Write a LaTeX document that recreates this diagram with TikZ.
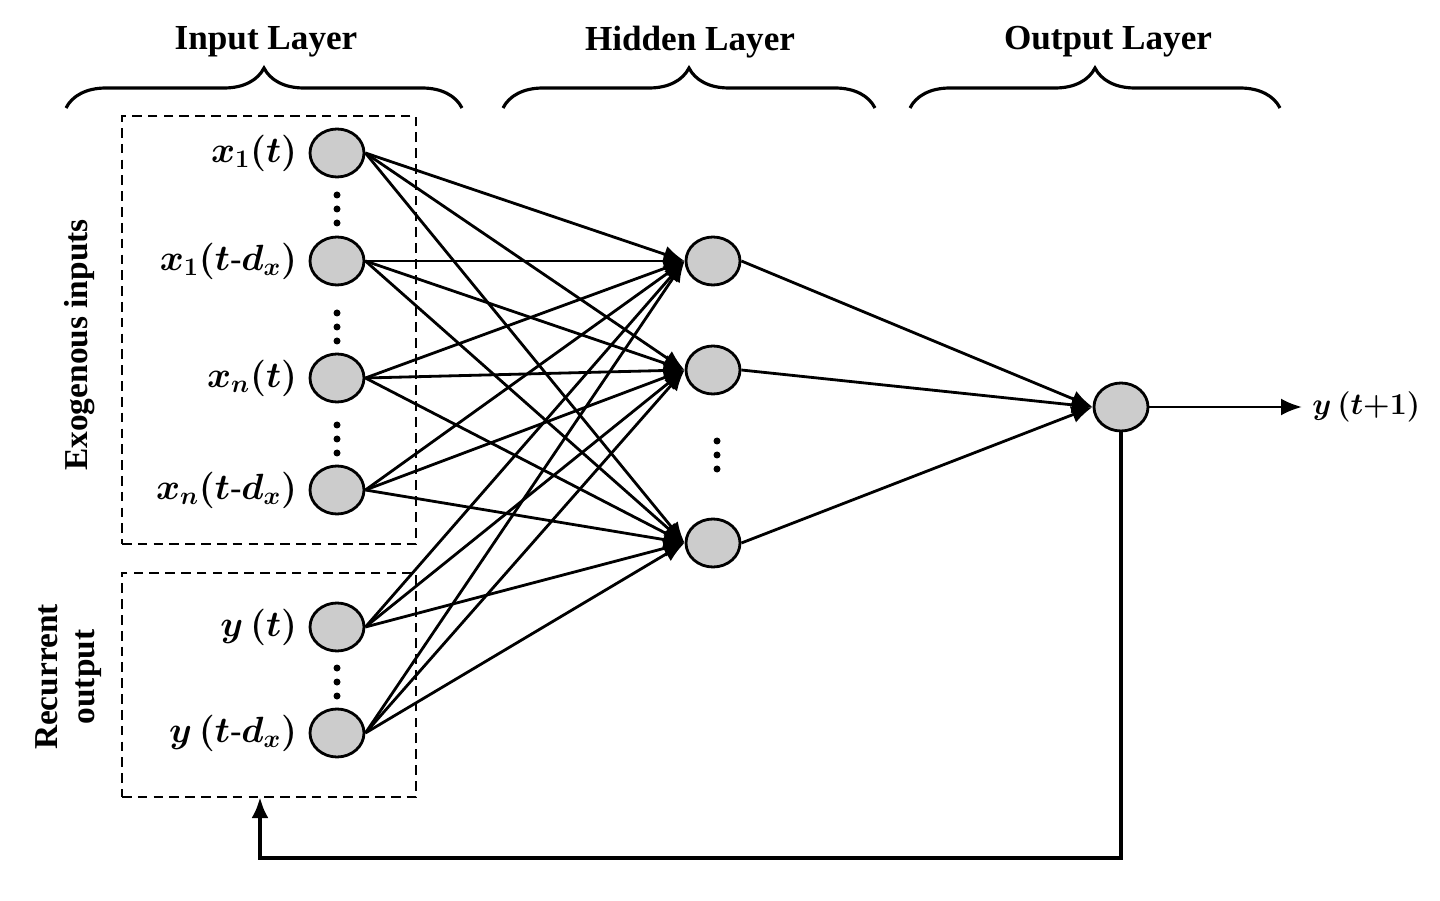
\documentclass[tikz,border=0pt]{standalone}
\usepackage{fontspec}
\setmainfont{Liberation Serif}
\usepackage{tikz}
\usetikzlibrary{arrows.meta,positioning,decorations.pathreplacing,shapes.geometric}

\begin{document}
\begin{tikzpicture}[
    >={Latex[length=0.42cm,width=0.34cm]},
    line width=1.6pt,
    neuron/.style={draw, ellipse, fill=gray!40, minimum width=1.08cm, minimum height=0.96cm, inner sep=0pt},
    lbl/.style={font=\fontsize{19.5}{23}\selectfont\boldmath, inner sep=0pt},
    title/.style={font=\fontsize{20}{24}\selectfont\bfseries},
    side/.style={font=\fontsize{19}{21}\selectfont\bfseries, rotate=90, align=center},
    group/.style={draw, dashed, dash pattern=on 5.5pt off 3.5pt, line width=1.1pt, rectangle, minimum width=5.88cm},
    brace/.style={decorate, decoration={brace, amplitude=0.8cm}, line width=1.8pt}
]
\useasboundingbox (0,0) rectangle (28.8,-18.02);

% Titulos
\node[title] (tin) at (5.32,-0.84) {Input Layer};
\node[title] (thid) at (13.8,-0.84) {Hidden Layer};
\node[title] (tout) at (22.16,-0.84) {Output Layer};

\draw[brace] (1.32,-2.16) -- (9.24,-2.16);
\draw[brace] (10.06,-2.16) -- (17.5,-2.16);
\draw[brace] (18.2,-2.16) -- (25.6,-2.16);

% Cajas
\node[group, minimum height=8.56cm] (exo) at (5.38,-6.6) {};
\node[group, minimum height=4.48cm] (rec) at (5.38,-13.7) {};

\node[side] (lexo) at (1.6,-6.9) {Exogenous inputs};
\node[side] (lrec) at (1.38,-13.54) {Recurrent\\output};

% Entradas
\node[neuron] (i1) at (6.74,-3.06) {};
\node[neuron] (i2) at (6.74,-5.22) {};
\node[neuron] (i3) at (6.74,-7.56) {};
\node[neuron] (i4) at (6.74,-9.8) {};
\node[neuron] (i5) at (6.74,-12.54) {};
\node[neuron] (i6) at (6.74,-14.66) {};

\node[lbl, left=0.2cm of i1] (l1) {$x_1(t)$};
\node[lbl, left=0.2cm of i2] (l2) {$x_1(t\mbox{-}d_x)$};
\node[lbl, left=0.2cm of i3] (l3) {$x_n(t)$};
\node[lbl, left=0.2cm of i4] (l4) {$x_n(t\mbox{-}d_x)$};
\node[lbl, left=0.2cm of i5] (l5) {$y\,(t)$};
\node[lbl, left=0.2cm of i6] (l6) {$y\,(t\mbox{-}d_x)$};

% Ocultas
\node[neuron] (h1) at (14.26,-5.22) {};
\node[neuron] (h2) at (14.26,-7.4) {};
\node[neuron] (h3) at (14.26,-10.86) {};

% Salida
\node[neuron] (out) at (22.42,-8.14) {};
\coordinate (yend) at (26.04,-8.14);
\node[lbl, anchor=west, font=\fontsize{17.5}{21}\selectfont\boldmath] (ly) at (26.22,-8.14) {$y\,(t{+}1)$};

% Puntos
\foreach \c in {-4.18,-6.54,-8.78,-13.64}
    \foreach \d in {-0.28,0,0.28}
        \fill (6.74,\c+\d) circle (0.07);
\foreach \d in {-0.28,0,0.28}
    \fill (14.34,-9.1+\d) circle (0.07);

% Conexiones
\foreach \i in {1,...,6}
    \foreach \h in {1,2,3}
        \draw[->] (i\i.east) -- (h\h.west);
\foreach \h in {1,2,3}
    \draw[->] (h\h.east) -- (out.west);
\draw[->] (out) -- (yend);

% Realimentacion
\coordinate (fb) at (5.2,-15.94);
\draw[->, line width=2.4pt] (out.south) -- (out.south |- 0,-17.16) -| (fb);

\end{tikzpicture}
\end{document}
